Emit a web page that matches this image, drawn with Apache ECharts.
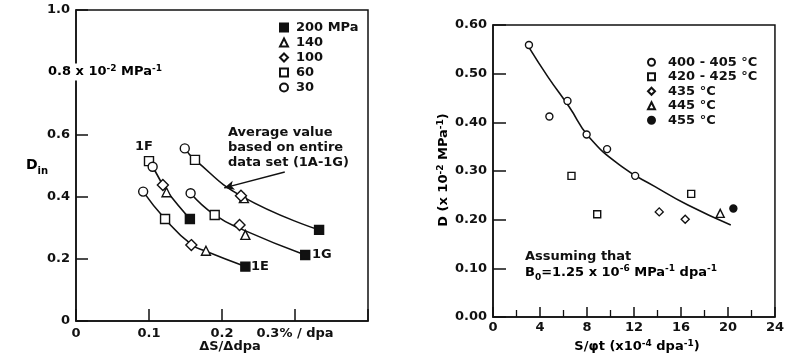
<!DOCTYPE html>
<html>
<head>
<meta charset="utf-8">
<script src="https://cdn.jsdelivr.net/npm/echarts@6/dist/echarts.min.js"></script>
</head>
<body style="margin:0;background:#fff">
<div id="chart" style="width:787px;height:364px"></div>
<script>
// left panel: markers per stress level [dS/ddpa, Din]
var s200 = [[0.156, 0.328], [0.232, 0.175], [0.314, 0.212], [0.333, 0.293]];
var s140 = [[0.124, 0.414], [0.178, 0.226], [0.232, 0.277], [0.230, 0.395]];
var s100 = [[0.119, 0.437], [0.158, 0.244], [0.224, 0.309], [0.226, 0.403]];
var s60 = [[0.100, 0.514], [0.122, 0.328], [0.190, 0.341], [0.163, 0.518]];
var s30 = [[0.105, 0.496], [0.092, 0.416], [0.157, 0.411], [0.149, 0.555]];
// left panel: curves
var fit1F = [[0.100, 0.514], [0.105, 0.496], [0.119, 0.437], [0.124, 0.418], [0.156, 0.328]];
var fit1E = [[0.092, 0.416], [0.122, 0.328], [0.158, 0.246], [0.178, 0.224], [0.232, 0.175]];
var fit1G = [[0.157, 0.411], [0.190, 0.341], [0.229, 0.293], [0.314, 0.212]];
var fitAvg = [[0.149, 0.555], [0.163, 0.518], [0.228, 0.400], [0.333, 0.293]];
var arrowAvg = [[0.286, 0.479], [0.203, 0.428]];
var leftXTicks = {0: '0', 1: '0.1', 2: '0.2', 3: '0.3% / dpa', 4: ''};

// right panel: [S/phi t (x1e-4), D]
var t400 = [[3.06, 0.559], [4.80, 0.412], [6.34, 0.444], [7.97, 0.375], [9.71, 0.345], [12.10, 0.290]];
var t420 = [[6.68, 0.290], [8.87, 0.211], [16.87, 0.253]];
var t435 = [[14.15, 0.216], [16.36, 0.201]];
var t445 = [[19.34, 0.213]];
var t455 = [[20.46, 0.223]];
var fitRight = [[3.06, 0.554], [4.66, 0.494], [6.48, 0.432], [8.17, 0.370], [10.97, 0.309],
  [13.79, 0.268], [16.59, 0.230], [20.24, 0.189]];

var ink = '#111';
var font = 'DejaVu Sans';
var txt = {fontFamily: font, fontWeight: 'bold', fontSize: 13, color: ink};
var sup = {fontFamily: font, fontWeight: 'bold', fontSize: 9, color: ink, verticalAlign: 'top', lineHeight: 15};
var sub = {fontFamily: font, fontWeight: 'bold', fontSize: 10, color: ink, verticalAlign: 'bottom', lineHeight: 22};
var base = Object.assign({lineHeight: 15}, txt);

var chart = echarts.init(document.getElementById('chart'));

function openMarker(name, data, symbol, size, xi, filled) {
  return {
    name: name, type: 'scatter', xAxisIndex: xi, yAxisIndex: xi,
    data: data, symbol: symbol, symbolSize: size, z: 5,
    itemStyle: {color: filled ? ink : '#fff', borderColor: ink, borderWidth: 1.4, opacity: 1}
  };
}
function curve(data, xi) {
  return {
    type: 'line', xAxisIndex: xi, yAxisIndex: xi, data: data, smooth: 0.5,
    showSymbol: false, silent: true, z: 2,
    lineStyle: {color: ink, width: 1.6}
  };
}

var avgSeries = curve(fitAvg, 0);
avgSeries.markLine = {
  silent: true, symbol: ['none', 'arrow'], symbolSize: [7, 10],
  lineStyle: {color: ink, width: 1.4, type: 'solid'}, label: {show: false},
  data: [[{coord: arrowAvg[0]}, {coord: arrowAvg[1]}]]
};

var option = {
  backgroundColor: '#fff',
  animation: false,
  grid: [
    {left: 76, top: 10, width: 292, height: 311, show: true, borderColor: ink, borderWidth: 1.5},
    {left: 493, top: 25, width: 285, height: 292, show: true, borderColor: ink, borderWidth: 1.5}
  ],
  xAxis: [
    {
      gridIndex: 0, type: 'value', min: 0, max: 0.4, interval: 0.1,
      axisLine: {lineStyle: {color: ink, width: 1.5}},
      axisTick: {inside: true, length: 12, lineStyle: {color: ink, width: 1.5}},
      splitLine: {show: false},
      axisLabel: Object.assign({margin: 6, formatter: function (v) { return leftXTicks[Math.round(v * 10)]; }}, txt)
    },
    {
      gridIndex: 1, type: 'value', min: 0, max: 24, interval: 4,
      axisLine: {lineStyle: {color: ink, width: 1.5}},
      axisTick: {inside: true, length: 10, lineStyle: {color: ink, width: 1.5}},
      minorTick: {show: true, splitNumber: 2, length: 7, lineStyle: {color: ink, width: 1.3}},
      splitLine: {show: false},
      axisLabel: Object.assign({margin: 4}, txt)
    }
  ],
  yAxis: [
    {
      gridIndex: 0, type: 'value', min: 0, max: 1, interval: 0.2,
      axisLine: {lineStyle: {color: ink, width: 1.5}},
      axisTick: {inside: true, length: 12, lineStyle: {color: ink, width: 1.5}},
      splitLine: {show: false},
      axisLabel: Object.assign({margin: 6, formatter: function (v) {
        if (v === 0) return '0';
        if (Math.abs(v - 0.8) < 1e-6) return '';
        return v.toFixed(1);
      }}, txt)
    },
    {
      gridIndex: 1, type: 'value', min: 0, max: 0.6, interval: 0.1,
      axisLine: {lineStyle: {color: ink, width: 1.5}},
      axisTick: {inside: true, length: 13, lineStyle: {color: ink, width: 1.5}},
      splitLine: {show: false},
      axisLabel: Object.assign({margin: 6, formatter: function (v) { return v.toFixed(2); }}, txt)
    }
  ],
  legend: [
    {
      data: ['200 MPa', '140', '100', '60', '30'], orient: 'vertical',
      left: 279, top: 20, padding: 0, itemWidth: 8, itemHeight: 8, itemGap: 0,
      textStyle: Object.assign({lineHeight: 15, padding: [0, 0, 0, 3]}, txt),
      selectedMode: false
    },
    {
      data: ['400 - 405 °C', '420 - 425 °C', '435 °C', '445 °C', '455 °C'], orient: 'vertical',
      left: 647, top: 55, padding: 0, itemWidth: 7, itemHeight: 7, itemGap: 0,
      textStyle: Object.assign({lineHeight: 14.5, padding: [0, 0, 0, 8]}, txt),
      selectedMode: false
    }
  ],
  series: [
    curve(fit1F, 0), curve(fit1E, 0), curve(fit1G, 0), avgSeries,
    openMarker('200 MPa', s200, 'rect', 9, 0, true),
    openMarker('140', s140, 'triangle', 9, 0, false),
    openMarker('100', s100, 'diamond', 11, 0, false),
    openMarker('60', s60, 'rect', 9, 0, false),
    openMarker('30', s30, 'circle', 9, 0, false),
    curve(fitRight, 1),
    openMarker('400 - 405 °C', t400, 'circle', 7, 1, false),
    openMarker('420 - 425 °C', t420, 'rect', 7, 1, false),
    openMarker('435 °C', t435, 'diamond', 8, 1, false),
    openMarker('445 °C', t445, 'triangle', 8, 1, false),
    openMarker('455 °C', t455, 'circle', 7, 1, true)
  ],
  graphic: [
    {type: 'text', x: 46, y: 72, z: 10, style: {
      text: '{a|0.8 x 10}{s|-2}{a| MPa}{s|-1}', rich: {a: base, s: sup},
      verticalAlign: 'middle', backgroundColor: '#fff', padding: [1, 2]}},
    {type: 'text', x: 26, y: 165, style: {
      text: '{d|D}{s|in}', rich: {d: Object.assign({lineHeight: 22}, txt, {fontSize: 14}), s: sub},
      verticalAlign: 'middle'}},
    {type: 'text', x: 144, y: 147, style: Object.assign({text: '1F', align: 'center', verticalAlign: 'middle'}, txt, {fill: ink})},
    {type: 'text', x: 251, y: 267, style: Object.assign({text: '1E', verticalAlign: 'middle'}, txt, {fill: ink})},
    {type: 'text', x: 312, y: 255, style: Object.assign({text: '1G', verticalAlign: 'middle'}, txt, {fill: ink})},
    {type: 'text', x: 228, y: 125, style: Object.assign({
      text: 'Average value\nbased on entire\ndata set (1A-1G)', lineHeight: 15}, txt, {fill: ink})},
    {type: 'text', x: 230, y: 347, style: Object.assign({text: 'ΔS/Δdpa', align: 'center', verticalAlign: 'middle'}, txt, {fill: ink})},
    {type: 'text', x: 525, y: 257, style: Object.assign({text: 'Assuming that', verticalAlign: 'middle'}, txt, {fill: ink})},
    {type: 'text', x: 525, y: 273, style: {
      text: '{a|B}{b|0}{a|=1.25 x 10}{s|-6}{a| MPa}{s|-1}{a| dpa}{s|-1}',
      rich: {a: base, s: sup, b: {fontFamily: font, fontWeight: 'bold', fontSize: 9, color: ink, verticalAlign: 'bottom', lineHeight: 18}},
      verticalAlign: 'middle'}},
    {type: 'text', x: 637, y: 347, style: {
      text: '{a|S/φt (x10}{s|-4}{a| dpa}{s|-1}{a|)}', rich: {a: base, s: sup},
      align: 'center', verticalAlign: 'middle'}},
    {type: 'text', x: 444, y: 170, rotation: Math.PI / 2, style: {
      text: '{a|D (x 10}{s|-2}{a| MPa}{s|-1}{a|)}', rich: {a: base, s: sup},
      align: 'center', verticalAlign: 'middle'}}
  ]
};
chart.setOption(option);
</script>
</body>
</html>
